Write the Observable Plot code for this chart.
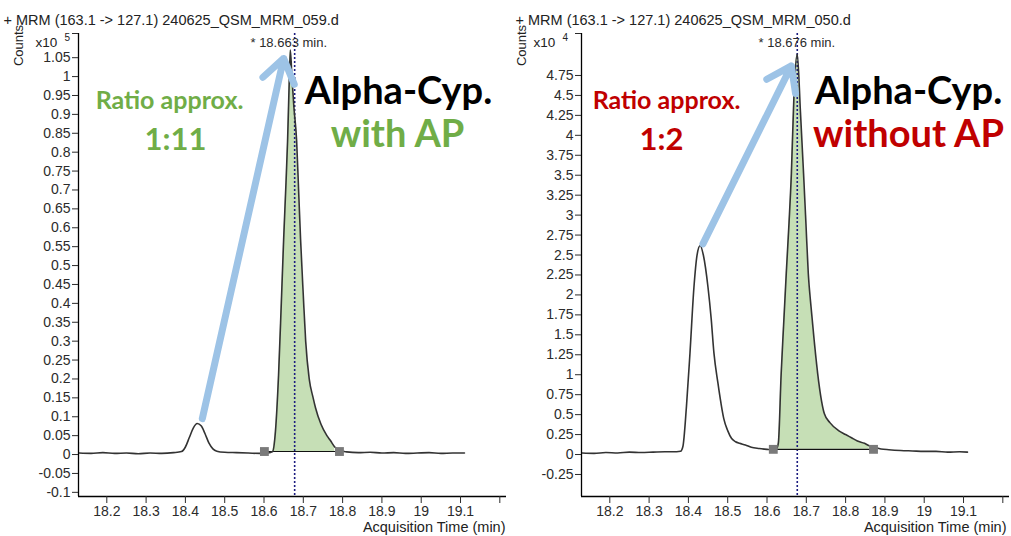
<!DOCTYPE html>
<html><head><meta charset="utf-8">
<script src="https://cdn.jsdelivr.net/npm/d3@7"></script>
<script src="https://cdn.jsdelivr.net/npm/@observablehq/plot@0.6"></script>
<style>
html,body{margin:0;padding:0;background:#fff;}
#wrap{position:relative;width:1011px;height:536px;overflow:hidden;background:#fff;}
.panel{position:absolute;top:0;}
</style></head><body><div id="wrap"></div>
<script>
// ---- data ----
const xTicks = [18.2,18.3,18.4,18.5,18.6,18.7,18.8,18.9,19,19.1,19.2];
const leftYTicks = [-0.1,-0.05,0,0.05,0.1,0.15,0.2,0.25,0.3,0.35,0.4,0.45,0.5,0.55,0.6,0.65,0.7,0.75,0.8,0.85,0.9,0.95,1,1.05];
const rightYTicks = [-0.25,0,0.25,0.5,0.75,1,1.25,1.5,1.75,2,2.25,2.5,2.75,3,3.25,3.5,3.75,4,4.25,4.5,4.75];

const leftTime = [18.13,18.16,18.19,18.22,18.25,18.28,18.31,18.34,18.37,18.39,18.40,18.41,18.42,18.43,18.44,18.45,18.46,18.47,18.48,18.50,18.53,18.56,18.59,18.61,18.622,18.629,18.637,18.644,18.65,18.656,18.66,18.664,18.667,18.671,18.676,18.683,18.688,18.693,18.70,18.706,18.715,18.725,18.731,18.745,18.76,18.769,18.78,18.795,18.81,18.84,18.87,18.90,18.93,18.96,18.99,19.02,19.05,19.08,19.11];
const leftCounts = [0.004,0.003,0.005,0.003,0.004,0.002,0.004,0.003,0.005,0.008,0.02,0.045,0.07,0.082,0.076,0.055,0.03,0.015,0.009,0.006,0.005,0.004,0.003,0.004,0.008,0.06,0.21,0.40,0.57,0.72,0.83,0.98,1.07,1.0,0.92,0.83,0.70,0.57,0.42,0.30,0.20,0.15,0.124,0.08,0.05,0.037,0.02,0.01,0.007,0.005,0.006,0.004,0.005,0.003,0.004,0.005,0.003,0.004,0.004];

const rightTime = [18.13,18.16,18.19,18.22,18.25,18.28,18.31,18.34,18.37,18.38,18.386,18.395,18.404,18.414,18.422,18.43,18.438,18.45,18.458,18.465,18.475,18.483,18.49,18.50,18.51,18.52,18.53,18.545,18.56,18.58,18.60,18.615,18.625,18.629,18.636,18.642,18.649,18.656,18.662,18.669,18.677,18.685,18.693,18.699,18.705,18.712,18.72,18.731,18.746,18.76,18.782,18.80,18.815,18.83,18.848,18.86,18.873,18.89,18.91,18.94,18.97,19.0,19.03,19.06,19.09,19.11];
const rightCounts = [0.02,0.015,0.025,0.02,0.03,0.025,0.03,0.035,0.035,0.04,0.1,0.6,1.27,2.09,2.5,2.62,2.5,2.09,1.7,1.27,0.9,0.64,0.45,0.3,0.2,0.16,0.14,0.12,0.09,0.075,0.065,0.06,0.08,0.15,1.01,1.6,2.27,2.9,3.52,4.56,5.02,4.3,3.52,2.9,2.27,1.85,1.43,0.93,0.51,0.4,0.3,0.25,0.21,0.17,0.14,0.11,0.09,0.07,0.06,0.05,0.045,0.04,0.04,0.03,0.035,0.03];

const fileNames = ["240625_QSM_MRM_059.d", "240625_QSM_MRM_050.d"];
const transition = "163.1 -> 127.1";
const peakRT = [18.663, 18.676];
const expectedRT = [18.678, 18.677];
const exponents = ["5", "4"];
const integStart = [18.601, 18.616];
const integEnd = [18.792, 18.871];
const integBase = [0.008, 0.065];
const arrowFromT = [18.443, 18.437];
const arrowFromV = [0.095, 2.64];
const arrowToT = [18.65, 18.662];
const arrowToV = [1.048, 4.87];
const ratioLabels = ["1:11", "1:2"];
const conditionLabels = ["with AP", "without AP"];
const compound = "Alpha-Cyp.";
const yDomains = [[-0.111, 1.114], [-0.526, 5.276]];
const xDomain = [18.128, 19.217];

// ---- drawing ----
const accents = ["#70ad47", "#c00000"];
const small = "'Liberation Sans', Arial, sans-serif";
const big = "Lato, 'Open Sans', sans-serif";

function panel(i) {
  const time = i === 0 ? leftTime : rightTime;
  const counts = i === 0 ? leftCounts : rightCounts;
  const yTicks = i === 0 ? leftYTicks : rightYTicks;
  const trace = time.map((t, k) => ({t, v: counts[k]}));
  const fill = trace.filter(d => d.t >= integStart[i] && d.t <= integEnd[i] && d.v >= integBase[i]);
  const yTop = yDomains[i][1];
  const ends = [{t: integStart[i], v: integBase[i]}, {t: integEnd[i], v: integBase[i]}];
  const arrow = [{x1: arrowFromT[i], y1: arrowFromV[i], x2: arrowToT[i], y2: arrowToV[i]}];
  const L = i === 0
    ? {ratio: [91, 67], r: [97, 107], comp: [320, 58], cond: [319, 101], title: -75, counts: -60, x10: -43, exp: -14}
    : {ratio: [85, 67], r: [80, 107], comp: [327, 58], cond: [327, 101], title: -66, counts: -60, x10: -48, exp: -19};
  const T = (txt, o) => Plot.text([txt], {frameAnchor: "top-left", textAnchor: "middle", lineAnchor: "middle", ...o});
  return Plot.plot({
    width: 506, height: 536,
    marginLeft: 78, marginRight: 0, marginTop: 33, marginBottom: 40,
    style: {background: "transparent", fontFamily: small, fontSize: "14px", color: "#2b2b2b", overflow: "visible"},
    x: {domain: xDomain},
    y: {domain: yDomains[i]},
    marks: [
      Plot.areaY(fill, {x: "t", y1: integBase[i], y2: "v", fill: "#c6dfb6", curve: "monotone-x"}),
      Plot.ruleX([expectedRT[i]], {stroke: "#1c1c80", strokeWidth: 1.6, strokeDasharray: "2,2"}),
      Plot.line(ends, {x: "t", y: "v", stroke: "#111", strokeWidth: 1.2}),
      Plot.line(trace, {x: "t", y: "v", stroke: "#333", strokeWidth: 1.6, curve: "monotone-x"}),
      Plot.dot(ends, {x: "t", y: "v", symbol: "square", r: 5, fill: "#7a7a7a"}),
      Plot.arrow(arrow, {x1: "x1", y1: "y1", x2: "x2", y2: "y2", stroke: "#9dc3e6", strokeWidth: 7, headLength: 6, headAngle: 70}),
      Plot.ruleX([xDomain[0]], {stroke: "#000", strokeWidth: 1.3}),
      Plot.ruleY([yDomains[i][0]], {stroke: "#000", strokeWidth: 1.3}),
      Plot.axisY({ticks: [...yTicks, yTop], tickSize: 6, tickPadding: 2, label: null, fontSize: 14,
        tickFormat: d => d === yTop ? "" : String(d)}),
      Plot.axisX({ticks: xTicks, tickSize: 7, tickPadding: 3, label: null, fontSize: 14,
        tickFormat: d => d === 19.2 ? "" : String(d)}),
      Plot.text([`* ${peakRT[i]} min.`], {x: peakRT[i], frameAnchor: "top", textAnchor: "middle", lineAnchor: "middle", dy: 9, fontSize: 13, fill: "#2b2b2b"}),
      T(`+ MRM (${transition}) ${fileNames[i]}`, {dx: L.title, dy: -13, textAnchor: "start", fontSize: 14.5, fill: "#222"}),
      T("Counts", {dx: L.counts, dy: 12, rotate: -90, fontSize: 13, fill: "#222"}),
      T("x10", {dx: L.x10, dy: 9, textAnchor: "start", fontSize: 13.5, fill: "#222"}),
      T(exponents[i], {dx: L.exp, dy: 4, textAnchor: "start", fontSize: 10, fill: "#222"}),
      Plot.text(["Acquisition Time (min)"], {frameAnchor: "bottom-right", textAnchor: "end", lineAnchor: "middle", dx: i === 0 ? -1 : -3, dy: 31, fontSize: 14.5, fill: "#222"}),
      T("Ratio approx.", {dx: L.ratio[0], dy: L.ratio[1], fontFamily: big, fontWeight: "bold", fontSize: 25, fill: accents[i]}),
      T(ratioLabels[i], {dx: L.r[0], dy: L.r[1], fontFamily: big, fontWeight: "bold", fontSize: 31, fill: accents[i]}),
      T(compound, {dx: L.comp[0], dy: L.comp[1], fontFamily: big, fontWeight: "bold", fontSize: 38, fill: "#000"}),
      T(conditionLabels[i], {dx: L.cond[0], dy: L.cond[1], fontFamily: big, fontWeight: "bold", fontSize: 38, fill: accents[i]})
    ]
  });
}

const wrap = document.getElementById("wrap");
[0, 1].forEach(i => {
  const div = document.createElement("div");
  div.className = "panel";
  div.style.left = (i === 0 ? 0 : 503) + "px";
  div.appendChild(panel(i));
  wrap.appendChild(div);
});
</script></body></html>
